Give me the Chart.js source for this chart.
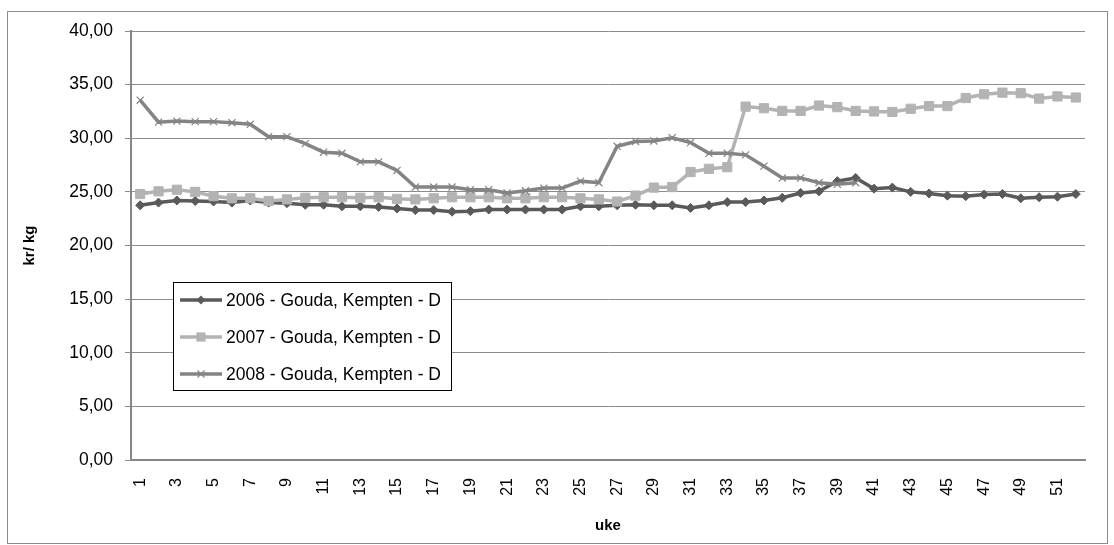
<!DOCTYPE html>
<html>
<head>
<meta charset="utf-8">
<script src="https://cdn.jsdelivr.net/npm/chart.js@4.4.1/dist/chart.umd.min.js"></script>
<style>
  html, body { margin: 0; padding: 0; background: #ffffff; }
  #wrap { width: 1114px; height: 545px; position: relative; }
  canvas { display: block; }
</style>
</head>
<body>
<div id="wrap"><canvas id="c" width="1114" height="545" style="width:1114px;height:545px"></canvas></div>
<script>
// ---- data ----
const weeks = ['1','2','3','4','5','6','7','8','9','10','11','12','13','14','15','16','17','18','19','20',
  '21','22','23','24','25','26','27','28','29','30','31','32','33','34','35','36','37','38','39','40',
  '41','42','43','44','45','46','47','48','49','50','51','52'];

const seriesNames = ['2006 - Gouda, Kempten - D', '2007 - Gouda, Kempten - D', '2008 - Gouda, Kempten - D'];

const values2006 = [23.75, 24.0, 24.2, 24.15, 24.1, 24.0, 24.2, 24.0, 23.95, 23.8,
  23.8, 23.65, 23.65, 23.6, 23.45, 23.3, 23.3, 23.15, 23.2, 23.35,
  23.35, 23.35, 23.35, 23.35, 23.65, 23.65, 23.75, 23.8, 23.75, 23.75,
  23.5, 23.75, 24.05, 24.05, 24.2, 24.45, 24.9, 25.05, 26.0, 26.3,
  25.3, 25.4, 25.0, 24.85, 24.65, 24.6, 24.75, 24.8, 24.4, 24.5,
  24.55, 24.8];

const values2007 = [24.8, 25.05, 25.2, 25.0, 24.6, 24.4, 24.4, 24.15, 24.3, 24.45,
  24.5, 24.5, 24.45, 24.5, 24.35, 24.3, 24.4, 24.5, 24.5, 24.5,
  24.4, 24.4, 24.5, 24.5, 24.4, 24.3, 24.1, 24.65, 25.4, 25.45,
  26.85, 27.15, 27.3, 32.95, 32.8, 32.55, 32.55, 33.05, 32.9, 32.55,
  32.5, 32.45, 32.75, 33.0, 33.0, 33.75, 34.1, 34.25, 34.2, 33.7,
  33.9, 33.8];

const values2008 = [33.55, 31.5, 31.6, 31.55, 31.55, 31.45, 31.3, 30.15, 30.15, 29.5,
  28.7, 28.6, 27.8, 27.8, 27.0, 25.45, 25.45, 25.45, 25.2, 25.2,
  24.9, 25.1, 25.35, 25.35, 26.0, 25.85, 29.25, 29.7, 29.75, 30.05,
  29.6, 28.6, 28.6, 28.45, 27.4, 26.3, 26.3, 25.85, 25.7, 25.85];

const yMin = 0, yMax = 40, yStep = 5;
const xTitle = 'uke';
const yTitle = 'kr/ kg';

// ---- styles ----
const colors = ['#5a5a5a', '#b3b3b3', '#848484'];
const FONT = '"Liberation Sans", Arial, sans-serif';

function drawMarker(ctx, style, x, y, r, color, bw) {
  ctx.save();
  ctx.fillStyle = color; ctx.strokeStyle = color; ctx.lineWidth = bw;
  ctx.beginPath();
  if (style === 'rectRot') {
    ctx.moveTo(x - r, y); ctx.lineTo(x, y - r); ctx.lineTo(x + r, y); ctx.lineTo(x, y + r); ctx.closePath();
    ctx.fill();
  } else if (style === 'rect') {
    const s = r * Math.SQRT1_2;
    ctx.rect(x - s, y - s, 2 * s, 2 * s); ctx.fill();
  } else {
    const s = r * Math.SQRT1_2;
    ctx.moveTo(x - s, y - s); ctx.lineTo(x + s, y + s);
    ctx.moveTo(x + s, y - s); ctx.lineTo(x - s, y + s);
    ctx.stroke();
  }
  ctx.restore();
}

const frame = {
  id: 'frame',
  beforeDraw(chart) {
    const ctx = chart.ctx;
    ctx.save();
    ctx.fillStyle = '#ffffff';
    ctx.fillRect(0, 0, chart.width, chart.height);
    ctx.strokeStyle = '#8c8c8c';
    ctx.lineWidth = 1;
    ctx.strokeRect(7.5, 11.5, 1100, 532);
    ctx.restore();
  }
};

const boxLegend = {
  id: 'boxLegend',
  afterDatasetsDraw(chart) {
    const {ctx, chartArea} = chart;
    const x0 = Math.round(chartArea.left + 42), y0 = Math.round(chartArea.top + 251);
    const w = 278, h = 108;
    ctx.save();
    ctx.fillStyle = '#ffffff';
    ctx.fillRect(x0, y0, w, h);
    ctx.strokeStyle = '#000000';
    ctx.lineWidth = 1;
    ctx.strokeRect(x0 + 0.5, y0 + 0.5, w, h);
    chart.data.datasets.forEach((ds, i) => {
      const cy = y0 + 18 + i * 37;
      ctx.strokeStyle = ds.borderColor;
      ctx.lineWidth = ds.borderWidth;
      ctx.beginPath(); ctx.moveTo(x0 + 7, cy); ctx.lineTo(x0 + 49, cy); ctx.stroke();
      drawMarker(ctx, ds.pointStyle, x0 + 28, cy, ds.pointRadius, ds.pointBackgroundColor, ds.pointBorderWidth);
      ctx.fillStyle = '#000000';
      ctx.font = '17.5px ' + FONT;
      ctx.textBaseline = 'middle';
      ctx.textAlign = 'left';
      ctx.fillText(ds.label, x0 + 53, cy + 1);
    });
    ctx.restore();
  }
};

const makeDs = (label, data, color, style, radius, pbw, order) => ({
  label, data,
  borderColor: color, backgroundColor: color,
  pointBackgroundColor: color, pointBorderColor: color,
  borderWidth: 3.5, pointStyle: style, pointRadius: radius, pointHoverRadius: radius,
  pointBorderWidth: pbw, tension: 0, fill: false, order
});

new Chart(document.getElementById('c'), {
  type: 'line',
  data: {
    labels: weeks,
    datasets: [
      makeDs(seriesNames[0], values2006, colors[0], 'rectRot', 4.5, 1, 3),
      makeDs(seriesNames[1], values2007, colors[1], 'rect', 6.5, 1, 2),
      makeDs(seriesNames[2], values2008, colors[2], 'crossRot', 5, 1.2, 1)
    ]
  },
  plugins: [frame, boxLegend],
  options: {
    responsive: false,
    animation: false,
    devicePixelRatio: 1,
    layout: { padding: { top: 31, right: 29, bottom: 0, left: 0 } },
    plugins: { legend: { display: false }, tooltip: { enabled: false } },
    scales: {
      x: {
        type: 'category',
        offset: true,
        grid: { display: false, drawTicks: false },
        border: { display: true, color: '#868686', width: 2 },
        ticks: {
          autoSkip: false, maxRotation: 90, minRotation: 90, padding: 18,
          color: '#000', font: { family: FONT, size: 16 },
          callback: function (v, i) { return i % 2 === 0 ? weeks[i] : ''; }
        },
        title: { display: true, text: xTitle, color: '#000', font: { family: FONT, size: 15, weight: 'bold' }, padding: { top: 0, bottom: 10 } },
        afterFit: s => { s.height = 85; }
      },
      y: {
        min: yMin, max: yMax,
        grid: { color: '#8c8c8c', lineWidth: 1, drawTicks: true, tickLength: 6, tickColor: '#8c8c8c' },
        border: { display: true, color: '#868686', width: 2 },
        ticks: {
          stepSize: yStep, padding: 12, color: '#000', font: { family: FONT, size: 17.5 },
          callback: v => v.toFixed(2).replace('.', ',')
        },
        title: { display: true, text: yTitle, color: '#000', font: { family: FONT, size: 15, weight: 'bold' }, padding: { top: 21, bottom: 0 } },
        afterFit: s => { s.width = 131; }
      }
    }
  }
});
</script>
</body>
</html>
